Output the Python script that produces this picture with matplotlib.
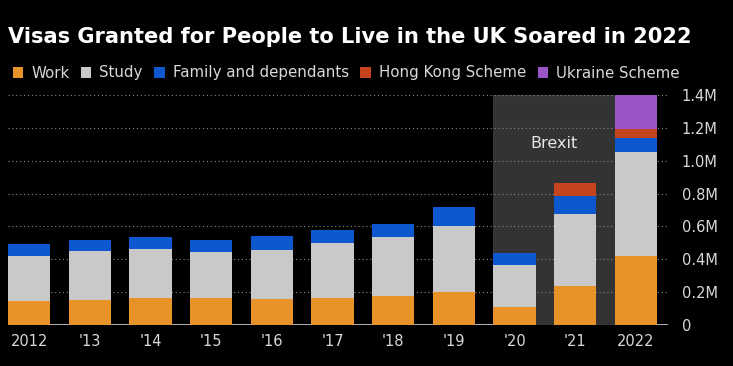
import matplotlib
matplotlib.use("Agg")
import matplotlib.pyplot as plt
import numpy as np

years = ["2012", "'13", "'14", "'15", "'16", "'17", "'18", "'19", "'20", "'21", "2022"]
work = [0.148, 0.155, 0.167, 0.167, 0.161, 0.167, 0.175, 0.203, 0.112, 0.238, 0.423]
study = [0.273, 0.294, 0.297, 0.276, 0.295, 0.331, 0.358, 0.397, 0.254, 0.435, 0.630]
family = [0.075, 0.070, 0.069, 0.076, 0.083, 0.078, 0.083, 0.116, 0.075, 0.114, 0.086]
hongkong = [0, 0, 0, 0, 0, 0, 0, 0, 0, 0.077, 0.057]
ukraine = [0, 0, 0, 0, 0, 0, 0, 0, 0, 0, 0.207]
series_names = ["Work", "Study", "Family and dependants", "Hong Kong Scheme", "Ukraine Scheme"]
colors = ["#E8922A", "#C9C9C9", "#0E58CF", "#C6441D", "#9A56C6"]
yticks = [0, 0.2, 0.4, 0.6, 0.8, 1.0, 1.2, 1.4]
ytick_labels = ["0", "0.2M", "0.4M", "0.6M", "0.8M", "1.0M", "1.2M", "1.4M"]
shade_start, shade_end = "'20", "2022"

plt.rcParams['font.family'] = ['DejaVu Sans']
fig = plt.figure(figsize=(7.33, 3.66), dpi=100, facecolor="black")
ax = fig.add_axes([8/733, 41/366, 660/733, 230/366], facecolor="black")

x = np.arange(len(years))
w = 0.7
data = [work, study, family, hongkong, ukraine]
bottom = np.zeros(len(years))
for vals, c, name in zip(data, colors, series_names):
    ax.bar(x, vals, w, bottom=bottom, color=c, label=name, zorder=3)
    bottom += np.array(vals)

i0 = years.index(shade_start)
i1 = years.index(shade_end)
ax.axvspan(i0 - w/2, i1 - w/2, ymin=0, ymax=1, color="#333333", zorder=1, lw=0)
ax.text((i0 - w/2 + i1 - w/2) / 2, 1.105, "Brexit", color="#E6E6E6", fontsize=11.5,
        ha="center", va="center", zorder=4)

ax.set_xlim(-w/2, len(years) - 1 + w/2 + 0.18)
ax.set_ylim(0, 1.4)
ax.set_yticks(yticks)
ax.set_yticklabels(ytick_labels)
ax.yaxis.tick_right()
ax.grid(axis="y", color="#8A8A8A", linestyle=(0, (1, 2.5)), linewidth=0.8, zorder=2)
ax.axhline(0, color="#D0D0D0", lw=1.2, zorder=0.5)
ax.set_xticks(x)
ax.set_xticklabels(years)
ax.tick_params(axis="both", length=0, colors="#D8D8D8", labelsize=10.5)
ax.tick_params(axis="y", pad=10)
ax.tick_params(axis="x", pad=6.5)
for s in ax.spines.values():
    s.set_visible(False)

fig.text(8/733, 1 - 37/366, "Visas Granted for People to Live in the UK Soared in 2022",
         color="white", fontsize=15.1, fontweight="bold", va="center", ha="left")

handles, labels = ax.get_legend_handles_labels()
leg = fig.legend(handles, labels, loc="center left", bbox_to_anchor=(8/733, 1 - 73/366),
                 ncol=5, frameon=False, handlelength=0.7, handleheight=0.7,
                 handletextpad=0.55, columnspacing=0.75, fontsize=10.8, borderaxespad=0,
                 borderpad=0.3)
for t in leg.get_texts():
    t.set_color("#D8D8D8")

fig.savefig("out.png", dpi=100, facecolor="black")
